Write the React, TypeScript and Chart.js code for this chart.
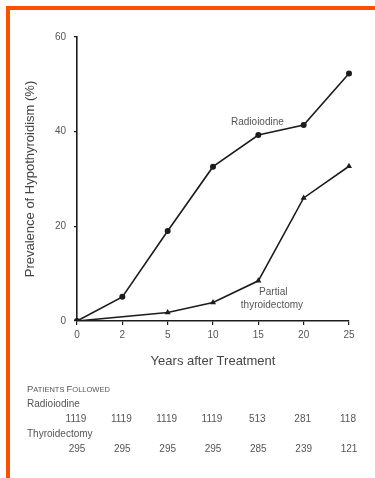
import React, { useEffect, useRef } from 'react';
import { Chart, registerables } from 'chart.js';

Chart.register(...registerables);

const years = ['0', '2', '5', '10', '15', '20', '25'];
const radioiodine = [0, 5.1, 19, 32.6, 39.3, 41.4, 52.3];
const thyroidectomy: (number | null)[] = [0, null, 1.8, 3.9, 8.5, 26, 32.7];
const radioiodineFollowed = [1119, 1119, 1119, 1119, 513, 281, 118];
const thyroidectomyFollowed = [295, 295, 295, 295, 285, 239, 121];
const yTicks = [0, 20, 40, 60];

const FONT = '"Liberation Sans", Arial, Helvetica, sans-serif';
const TEXT = '#555';
const INK = '#1c1c1c';

const extrasPlugin = {
  id: 'extras',
  afterDraw(chart: any) {
    const ctx = chart.ctx;
    const xs = chart.scales.x;
    const ys = chart.scales.y;
    const base = chart.chartArea.bottom;
    ctx.save();
    ctx.fillStyle = TEXT;
    ctx.textBaseline = 'middle';

    // series annotations
    ctx.font = `10px ${FONT}`;
    ctx.textAlign = 'center';
    ctx.fillText('Radioiodine', xs.getPixelForValue(3.98), ys.getPixelForValue(42));
    ctx.fillText('Partial', xs.getPixelForValue(4.33), ys.getPixelForValue(6.0));
    ctx.fillText('thyroidectomy', xs.getPixelForValue(4.3), ys.getPixelForValue(3.4));

    // table header in small caps
    const left = 27;
    let x = left;
    const y0 = base + 67;
    const parts: [string, number][] = [
      ['P', 9.5], ['ATIENTS ', 7.5], ['F', 9.5], ['OLLOWED', 7.5],
    ];
    ctx.textAlign = 'left';
    ctx.textBaseline = 'alphabetic';
    for (const [t, s] of parts) {
      ctx.font = `${s}px ${FONT}`;
      ctx.fillText(t, x, y0 + 3.5);
      x += ctx.measureText(t).width;
    }
    ctx.textBaseline = 'middle';

    ctx.font = `10px ${FONT}`;
    ctx.fillText('Radioiodine', left, base + 83);
    ctx.fillText('Thyroidectomy', left, base + 113);

    ctx.textAlign = 'center';
    radioiodineFollowed.forEach((v, i) => {
      ctx.fillText(String(v), xs.getPixelForValue(i) - 1, base + 98);
    });
    thyroidectomyFollowed.forEach((v, i) => {
      ctx.fillText(String(v), xs.getPixelForValue(i), base + 128);
    });
    ctx.restore();
  },
};

export default function App() {
  const ref = useRef<HTMLCanvasElement | null>(null);

  useEffect(() => {
    if (!ref.current) return;
    const chart = new Chart(ref.current, {
      type: 'line',
      data: {
        labels: years,
        datasets: [
          {
            label: 'Radioiodine',
            data: radioiodine,
            borderColor: INK,
            backgroundColor: INK,
            borderWidth: 1.6,
            pointStyle: 'circle',
            pointRadius: 3,
            pointBorderWidth: 0,
            tension: 0,
          },
          {
            label: 'Partial thyroidectomy',
            data: thyroidectomy,
            borderColor: INK,
            backgroundColor: INK,
            borderWidth: 1.6,
            pointStyle: 'triangle',
            pointRadius: 3.5,
            pointBorderWidth: 0,
            spanGaps: true,
            tension: 0,
          },
        ],
      },
      options: {
        animation: false,
        responsive: false,
        layout: { padding: { left: 8, top: 37, right: 26, bottom: 109 } },
        plugins: {
          legend: { display: false },
          tooltip: { enabled: false },
        },
        elements: { point: { radius: 3 } },
        scales: {
          x: {
            type: 'category',
            offset: false,
            grid: {
              display: true,
              drawOnChartArea: false,
              drawTicks: true,
              tickLength: 4,
              color: INK,
              lineWidth: 1.2,
            },
            border: { display: true, color: INK, width: 1.6 },
            ticks: {
              color: TEXT,
              font: { family: FONT, size: 10 },
              padding: 4,
              maxRotation: 0,
              autoSkip: false,
            },
            title: {
              display: true,
              text: 'Years after Treatment',
              color: '#444',
              font: { family: FONT, size: 13 },
              padding: { top: 0, bottom: 0 },
            },
            afterFit: (s: any) => {
              s.height = 48;
            },
          },
          y: {
            min: 0,
            max: 60,
            afterBuildTicks: (s: any) => {
              s.ticks = yTicks.map((v) => ({ value: v }));
            },
            grid: {
              display: true,
              drawOnChartArea: false,
              drawTicks: true,
              tickLength: 3,
              color: INK,
              lineWidth: 1.2,
            },
            border: { display: true, color: INK, width: 1.6 },
            ticks: {
              color: TEXT,
              font: { family: FONT, size: 10 },
              padding: 8,
            },
            title: {
              display: true,
              text: 'Prevalence of Hypothyroidism (%)',
              color: '#444',
              font: { family: FONT, size: 13 },
              padding: { top: 15, bottom: 0 },
            },
            afterFit: (s: any) => {
              s.width = 69;
            },
          },
        },
      },
      plugins: [extrasPlugin],
    });
    return () => chart.destroy();
  }, []);

  return (
    <div style={{ position: 'fixed', left: 0, top: 0, width: 375, height: 478, background: '#fff' }}>
      <div
        style={{
          position: 'absolute',
          left: 6,
          top: 6,
          right: 0,
          bottom: 0,
          borderTop: '4px solid #ff5000',
          borderLeft: '4px solid #ff5000',
          boxSizing: 'border-box',
        }}
      />
      <canvas
        ref={ref}
        width={375}
        height={478}
        style={{ position: 'absolute', left: 0, top: 0, display: 'block' }}
      />
    </div>
  );
}
